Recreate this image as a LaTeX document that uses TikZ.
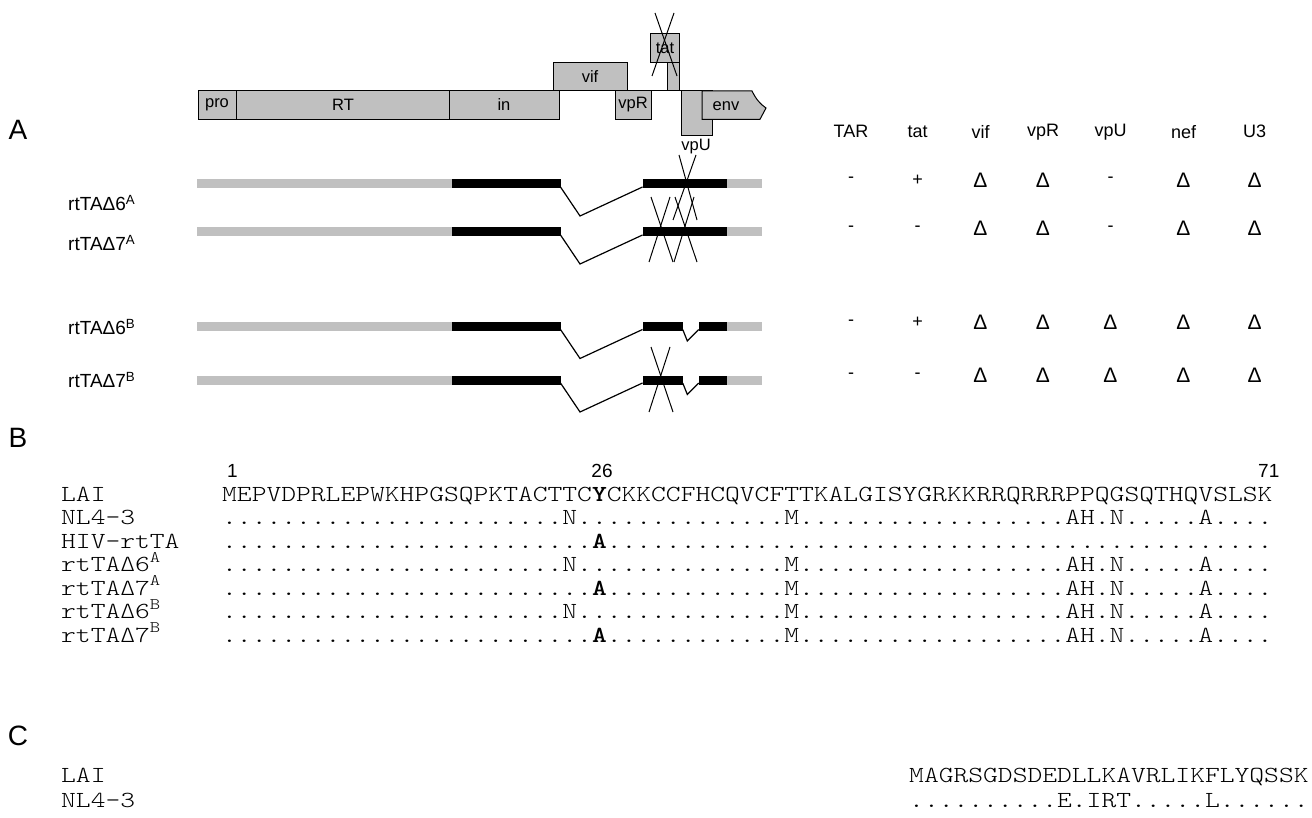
\documentclass[tikz,border=0pt]{standalone}
\usepackage{fontspec}
\setmainfont{Liberation Sans}
\newfontfamily\seqfont{lmmonolt10}[Extension=.otf,UprightFont=*-regular,BoldFont=*-bold,FakeStretch=1.225]
\ExplSyntaxOn
\cs_new:Npn \seqdots #1 { \prg_replicate:nn {#1} {.} }
\ExplSyntaxOff
\definecolor{boxgray}{RGB}{192,192,192}
\newcommand\dlt{{\fontsize{21}{22}\selectfont Δ}}
\begin{document}
\begin{tikzpicture}[x=1pt,y=-1pt,
  gbox/.style={draw=black,fill=boxgray,line width=1pt},
  glab/.style={font=\fontsize{16.5}{18}\selectfont,inner sep=0},
  thead/.style={font=\fontsize{18}{20}\selectfont,inner sep=0},
  rlab/.style={font=\fontsize{19}{21}\selectfont,inner sep=0,anchor=west},
  plet/.style={font=\fontsize{28}{30}\selectfont,inner sep=0},
  seq/.style={font=\seqfont\fontsize{23}{25}\selectfont,inner sep=0,anchor=base west},
  num/.style={font=\fontsize{19}{21}\selectfont,inner sep=0,anchor=base west},
  xline/.style={line width=1pt},
  splice/.style={line width=1.2pt},
]
\useasboundingbox (0,0) rectangle (1312,818);
\fill[white] (0,0) rectangle (1312,818);

% panel letters
\node[plet] (pA) at (18,130) {A};
\node[plet] (pB) at (18,438) {B};
\node[plet] (pC) at (18,736) {C};

% genome map
\draw[line width=1pt] (559,91) -- (681,91);
\draw[gbox] (553,62.7) rectangle (627,91);
\draw[gbox] (650,33.3) rectangle (679,62.7);
\draw[gbox] (667,62.7) rectangle (679,91);
\draw[gbox] (198,91) rectangle (236,119.3);
\draw[gbox] (236,91) rectangle (449,119.3);
\draw[gbox] (449,91) rectangle (559,119.3);
\draw[gbox] (615,91) rectangle (651,119.3);
\draw[gbox] (681,91) rectangle (712,136);
\draw[gbox] (702,91) -- (752,91) .. controls (756,99) and (760,104) .. (766,108) -- (760,119.3) -- (702,119.3) -- cycle;
\node[glab] (gpro) at (217,105) {pro};
\node[glab] (grt) at (343,105) {RT};
\node[glab] (gin) at (504,105) {in};
\node[glab] (gvif) at (590,77) {vif};
\node[glab] (gvpr) at (633,105) {vpR};
\node[glab] (gtat) at (665,48) {tat};
\node[glab] (genv) at (726,106) {env};
\node[glab] (gvpu) at (696,147) {vpU};
\draw[xline] (655,13) -- (677,76);
\draw[xline] (674,13) -- (652,76);

% constructs
\foreach \yy in {184,232,326.5,380} {
  \fill[boxgray] (197,\yy-4.5) rectangle (452,\yy+4.5);
  \fill[black] (452,\yy-4.5) rectangle (560.5,\yy+4.5);
  \draw[splice] (560.5,\yy+3) -- (580,\yy+32) -- (642.5,\yy+3);
  \fill[boxgray] (726.5,\yy-4.5) rectangle (762,\yy+4.5);
}
\foreach \yy in {184,232} {
  \fill[black] (642.5,\yy-4.5) rectangle (726.5,\yy+4.5);
}
\foreach \yy in {326.5,380} {
  \fill[black] (642.5,\yy-4.5) rectangle (682.7,\yy+4.5);
  \fill[black] (698.7,\yy-4.5) rectangle (726.5,\yy+4.5);
  \draw[splice] (682.7,\yy+3) -- (687.3,\yy+14.5) -- (698.7,\yy+3);
}
\draw[xline] (679,155) -- (697,220);
\draw[xline] (696,155) -- (673,220);
\draw[xline] (651,197) -- (673,262);
\draw[xline] (670,197) -- (649,262);
\draw[xline] (675,197) -- (697,262);
\draw[xline] (694,197) -- (674,262);
\draw[xline] (651,347) -- (673,412);
\draw[xline] (670,347) -- (649,412);

\node[rlab] (l6a) at (68,203) {rtTAΔ6\textsuperscript{A}};
\node[rlab] (l7a) at (68,243) {rtTAΔ7\textsuperscript{A}};
\node[rlab] (l6b) at (68,327) {rtTAΔ6\textsuperscript{B}};
\node[rlab] (l7b) at (68,380) {rtTAΔ7\textsuperscript{B}};

% table
\foreach \x/\t [count=\i] in {851/TAR,917.5/tat,980.5/vif,1043/vpR,1110.5/vpU,1183.5/nef,1254.5/U3}
  \node[thead] (h\i) at (\x,131.7) {\t};
\foreach \x/\t [count=\i] in {851/-,917.5/+,980.5/\dlt,1043/\dlt,1110.5/-,1183.5/\dlt,1254.5/\dlt}
  \node[thead] (ra\i) at (\x,180) {\t};
\foreach \x/\t [count=\i] in {851/-,917.5/-,980.5/\dlt,1043/\dlt,1110.5/-,1183.5/\dlt,1254.5/\dlt}
  \node[thead] (rb\i) at (\x,228.3) {\t};
\foreach \x/\t [count=\i] in {851/-,917.5/+,980.5/\dlt,1043/\dlt,1110.5/\dlt,1183.5/\dlt,1254.5/\dlt}
  \node[thead] (rc\i) at (\x,322.3) {\t};
\foreach \x/\t [count=\i] in {851/-,917.5/-,980.5/\dlt,1043/\dlt,1110.5/\dlt,1183.5/\dlt,1254.5/\dlt}
  \node[thead] (rd\i) at (\x,375.3) {\t};

% section B
\def\xo{222}
\def\cw{14.81}
\node[num] (n1) at (\xo+5,477) {1};
\node[num] (n26) at (\xo+25*\cw-1,477) {26};
\node[num,anchor=base east] (n71) at (\xo+71*\cw+6,477) {71};

\node[seq] (bl1) at (61,501) {LAI};
\node[seq] (bl2) at (61,524.5) {NL4-3};
\node[seq] (bl3) at (61,548) {HIV-rtTA};
\node[seq] (bl4) at (61,571.5) {rtTAΔ6\textsuperscript{A}};
\node[seq] (bl5) at (61,595) {rtTAΔ7\textsuperscript{A}};
\node[seq] (bl6) at (61,618.5) {rtTAΔ6\textsuperscript{B}};
\node[seq] (bl7) at (61,642) {rtTAΔ7\textsuperscript{B}};

\node[seq] (bs1) at (\xo,501) {MEPVDPRLEPWKHPGSQPKTACTTC\textbf{Y}CKKCCFHCQVCFTTKALGISYGRKKRRQRRRPPQGSQTHQVSLSK};
\node[seq] (bs2) at (\xo,524.5) {\seqdots{23}N\seqdots{14}M\seqdots{18}AH.N\seqdots{5}A\seqdots{4}};
\node[seq] (bs3) at (\xo,548) {\seqdots{25}\textbf{A}\seqdots{45}};
\node[seq] (bs4) at (\xo,571.5) {\seqdots{23}N\seqdots{14}M\seqdots{18}AH.N\seqdots{5}A\seqdots{4}};
\node[seq] (bs5) at (\xo,595) {\seqdots{25}\textbf{A}\seqdots{12}M\seqdots{18}AH.N\seqdots{5}A\seqdots{4}};
\node[seq] (bs6) at (\xo,618.5) {\seqdots{23}N\seqdots{14}M\seqdots{18}AH.N\seqdots{5}A\seqdots{4}};
\node[seq] (bs7) at (\xo,642) {\seqdots{25}\textbf{A}\seqdots{12}M\seqdots{18}AH.N\seqdots{5}A\seqdots{4}};

% section C
\node[seq] (cl1) at (61,782) {LAI};
\node[seq] (cl2) at (61,807) {NL4-3};
\node[seq] (cs1) at (909,782) {MAGRSGDSDEDLLKAVRLIKFLYQSSK};
\node[seq] (cs2) at (909,807) {\seqdots{10}E.IRT\seqdots{5}L\seqdots{6}};
\end{tikzpicture}
\end{document}
